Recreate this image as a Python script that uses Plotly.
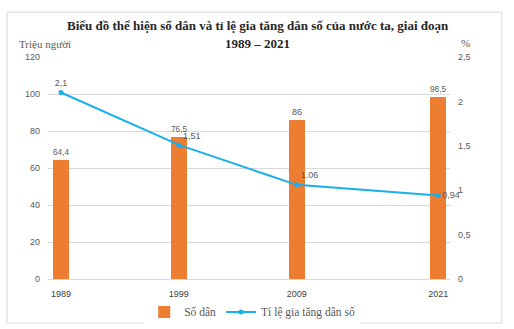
import plotly.graph_objects as go

# Population (million people) and growth rate (%) of Vietnam
years = [1989, 1999, 2009, 2021]
population = [64.4, 76.5, 86.0, 98.5]
growth_rate = [2.1, 1.51, 1.06, 0.94]
pop_labels = ["64,4", "76,5", "86", "98,5"]
rate_labels = ["2,1", "1,51", "1.06", "0,94"]
rate_label_pos = ["top center", "top right", "top right", "middle right"]

left_ticks = [0, 20, 40, 60, 80, 100, 120]
right_ticks = [0, 0.5, 1, 1.5, 2, 2.5]
right_tick_text = ["0", "0,5", "1", "1,5", "2", "2,5"]

BAR = "#ED7D31"
LINE = "#1AAEEB"
GRID = "#D9D9D9"
TXT = "#595959"
SERIF = "Liberation Serif"
SANS = "Liberation Sans"

fig = go.Figure()

fig.add_trace(go.Bar(
    x=years, y=population, name="Số dân",
    marker=dict(color=BAR, line=dict(width=0)),
    width=1.36,
    text=pop_labels, textposition="outside",
    textfont=dict(family=SANS, size=9, color=TXT),
    cliponaxis=False,
))

fig.add_trace(go.Scatter(
    x=years, y=growth_rate, name="Tỉ lệ gia tăng dân số",
    yaxis="y2", mode="lines+markers+text",
    line=dict(color=LINE, width=2),
    marker=dict(color=LINE, size=5),
    text=rate_labels, textposition=rate_label_pos,
    textfont=dict(family=SANS, size=9, color=TXT),
    cliponaxis=False,
))

fig.update_layout(
    width=514, height=329,
    margin=dict(l=48, r=64, t=57, b=50, autoexpand=False),
    paper_bgcolor="white", plot_bgcolor="white",
    showlegend=True,
    legend=dict(
        orientation="h", x=0.508, xanchor="center",
        yref="container", y=0.052, yanchor="middle",
        font=dict(family=SERIF, size=11.5, color=TXT),
        itemwidth=30, tracegroupgap=0,
    ),
    xaxis=dict(
        range=[1987.9, 2022.0],
        tickvals=years, ticktext=[str(y) for y in years],
        tickfont=dict(family=SANS, size=9, color="#404040"),
        showgrid=False, zeroline=False,
        showline=True, linecolor=GRID, linewidth=1,
        ticks="", ticklabelstandoff=6,
    ),
    yaxis=dict(
        range=[0, 120], tickvals=left_ticks,
        tickfont=dict(family=SANS, size=9, color=TXT),
        showgrid=True, gridcolor=GRID, gridwidth=1,
        zeroline=False, showline=False, ticks="",
        ticklabelstandoff=7,
    ),
    yaxis2=dict(
        range=[0, 2.5], overlaying="y", side="right",
        tickvals=right_ticks, ticktext=right_tick_text,
        tickfont=dict(family=SANS, size=9, color=TXT),
        showgrid=False, zeroline=False, showline=False, ticks="",
        ticklabelstandoff=7,
    ),
    bargap=0,
)

# outer chart frame
fig.add_shape(type="rect", xref="paper", yref="paper",
              x0=-0.102, x1=1.129, y0=-0.198, y1=1.202,
              line=dict(color="#D9D9D9", width=1), fillcolor="rgba(0,0,0,0)",
              layer="below")

# two-line title
title_font = dict(family=SERIF, size=13, color="#262626")
fig.add_annotation(text="<b>Biểu đồ thể hiện số dân và tỉ lệ gia tăng dân số của nước ta, giai đoạn</b>",
                   xref="paper", yref="paper", x=0.522, y=1.1426,
                   xanchor="center", yanchor="middle", showarrow=False, font=title_font)
fig.add_annotation(text="<b>1989 – 2021</b>",
                   xref="paper", yref="paper", x=0.522, y=1.0616,
                   xanchor="center", yanchor="middle", showarrow=False, font=title_font)

# axis unit captions
fig.add_annotation(text="Triệu người", xref="paper", yref="paper",
                   x=-0.077, y=1.057, xanchor="left", yanchor="middle",
                   showarrow=False, font=dict(family=SERIF, size=11, color=TXT))
fig.add_annotation(text="%", xref="paper", yref="paper",
                   x=1.022, y=1.062, xanchor="left", yanchor="middle",
                   showarrow=False, font=dict(family=SERIF, size=11, color=TXT))

fig.write_html("out.html")
